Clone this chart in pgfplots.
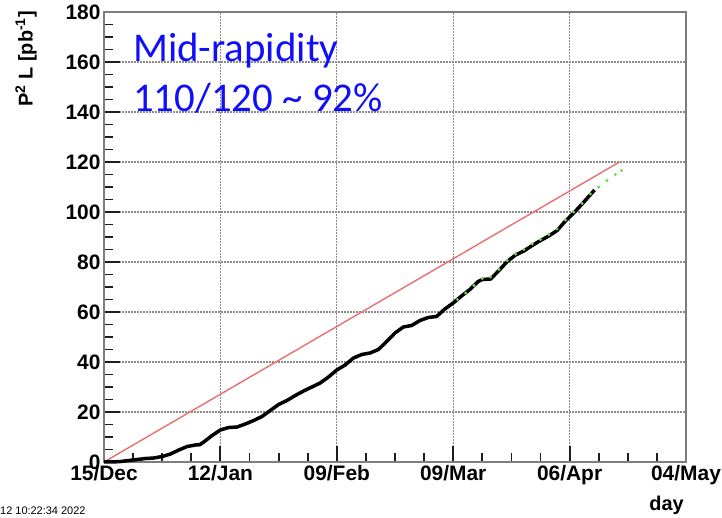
\documentclass[border=0pt]{standalone}
\usepackage{pgfplots}
\pgfplotsset{compat=1.18}
\usepackage{fontspec}
\setmainfont{Liberation Sans}
\newfontfamily\carlito{Carlito}
\definecolor{rootred}{RGB}{232,112,112}
\definecolor{rootgreen}{RGB}{110,215,80}
\definecolor{framegray}{RGB}{125,125,125}
\definecolor{gridgray}{RGB}{140,140,140}
\definecolor{tickgray}{RGB}{30,30,30}
\definecolor{txtblue}{RGB}{15,15,250}

\pgfplotstableread{
x y
0 0
2 0
4 0.2
6 0.6
8 1.0
10 1.4
12 1.6
14 2.2
16 3.2
18 4.8
20 6.2
22 6.8
23 6.9
24 8.0
26 10.6
28 12.8
30 13.8
32 14.0
34 15.2
36 16.6
38 18.2
40 20.6
42 23.0
44 24.6
46 26.6
48 28.4
50 30.0
52 31.6
54 34.0
56 36.8
58 38.8
60 41.6
62 43.0
64 43.6
66 45.0
68 48.2
70 51.6
72 54.0
74 54.6
76 56.6
78 57.8
80 58.2
82 61.2
84 63.6
86 66.4
88 69.0
90 72.2
91 73.0
93 73.2
95 76.6
97 80.2
99 82.8
101 84.4
103 86.6
105 88.6
107 90.4
109 92.6
111 96.4
113 99.6
115 103.2
116.5 106.0
118 108.8
}\blackdata

\pgfplotstableread{
x y
85 65.0
87 67.6
89 70.6
91 73.4
93 74.0
95 77.0
97 80.6
99 83.2
101 85.0
103 87.2
105 89.0
107 91.0
109 93.2
111 96.8
113 100.0
115 103.4
117 107.2
119 110.0
121 112.6
123 115.0
124.5 116.6
}\greendata

\begin{document}
\begin{tikzpicture}
\useasboundingbox (0,0) rectangle (722bp,518bp);
\begin{axis}[
  at={(104bp,56bp)}, anchor=south west,
  scale only axis, width=582bp, height=450bp,
  xmin=0, xmax=140, ymin=0, ymax=180,
  xtick={0,28,...,140},
  xticklabels={15/Dec,12/Jan,09/Feb,09/Mar,06/Apr,04/May},
  ytick={0,20,...,180},
  minor xtick={7,14,21,35,42,49,63,70,77,91,98,105,119,126,133},
  minor ytick={5,10,15,25,30,35,45,50,55,65,70,75,85,90,95,105,110,115,125,130,135,145,150,155,165,170,175},
  tick align=inside,
  xtick pos=left, ytick pos=left,
  xmajorgrids=true, ymajorgrids=true,
  major grid style={draw=gridgray, line width=1.2bp, dash pattern=on 1.5bp off 1.5bp},
  axis line style={framegray, line width=2bp},
  major tick length=16bp, minor tick length=9bp,
  major tick style={draw=tickgray, line width=2bp, solid},
  minor tick style={draw=tickgray, line width=1.8bp, solid},
  ticklabel style={font=\bfseries\fontsize{21}{21}\selectfont},
  /pgf/number format/assume math mode=true,
  clip=false,
]
\addplot[tickgray, line width=2bp, forget plot] coordinates {(0,0) (3.8,0)};
\addplot[rootred, line width=1.4bp] coordinates {(0,0) (124,120)};
\addplot[black, line width=3.5bp, line join=round] table[x=x,y=y] {\blackdata};
\addplot[rootgreen, only marks, mark=*, mark size=1.3bp, draw=none] table[x=x,y=y] {\greendata};
\end{axis}
\node[anchor=base west, txtblue, font=\carlito\fontsize{41}{41}\selectfont, inner sep=0] at (133bp,456bp) {Mid-rapidity};
\node[anchor=base west, txtblue, font=\carlito\fontsize{41}{41}\selectfont, inner sep=0] at (133bp,406bp) {110/120 \char`\~{} 92\%};
\node[rotate=90, anchor=east, inner sep=0, font=\bfseries\fontsize{20}{20}\selectfont] at (26bp,507bp) {P\textsuperscript{2} L [pb\textsuperscript{-1}]};
\node[anchor=base east, inner sep=0, font=\bfseries\fontsize{20}{20}\selectfont] at (684bp,8bp) {day};
\node[anchor=base west, inner sep=0, font=\fontsize{11}{11}\selectfont] at (0bp,4bp) {12 10:22:34 2022};
\end{tikzpicture}
\end{document}
